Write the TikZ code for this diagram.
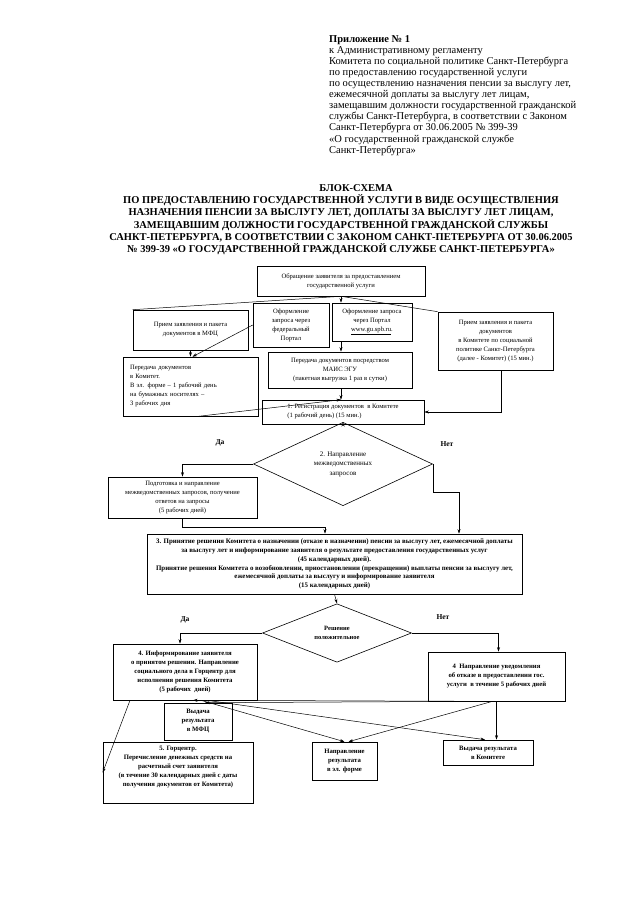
\documentclass[tikz,border=0pt]{standalone}
\usepackage{fontspec}
\setmainfont{Liberation Serif}
\usetikzlibrary{arrows.meta, positioning, shapes.geometric}

\begin{document}
\begin{tikzpicture}[x=1pt, y=-1pt,
    box/.style={draw, line width=0.6pt, align=center, inner sep=1pt,
      font=\fontsize{6.6}{9}\selectfont},
    boldbox/.style={box, font=\fontsize{6.7}{9}\selectfont\bfseries},
    choice/.style={draw, diamond, line width=0.6pt, inner sep=0pt, align=center},
    conn/.style={line width=0.5pt, -{Stealth[length=4.5pt, width=3pt]}},
    plain/.style={line width=0.5pt},
    yesno/.style={font=\fontsize{7.5}{8}\selectfont\bfseries}]

  \useasboundingbox (0,0) rectangle (640,905);

  % header and title
  \node[anchor=north west, align=left, inner sep=0pt,
        font=\fontsize{10.5}{11.1}\selectfont] (annex) at (329,35)
    {\textbf{Приложение № 1}\\
     к Административному регламенту\\
     Комитета по социальной политике Санкт-Петербурга\\
     по предоставлению государственной услуги\\
     по осуществлению назначения пенсии за выслугу лет,\\
     ежемесячной доплаты за выслугу лет лицам,\\
     замещавшим должности государственной гражданской\\
     службы Санкт-Петербурга, в соответствии с Законом\\
     Санкт-Петербурга от 30.06.2005 № 399-39\\
     «О государственной гражданской службе\\
     Санкт-Петербурга»};
  \node[anchor=north, align=center, inner sep=0pt,
        font=\fontsize{10.5}{12.3}\selectfont\bfseries] (title) at (341,184)
    {\hspace*{30pt}БЛОК-СХЕМА\\
     ПО ПРЕДОСТАВЛЕНИЮ ГОСУДАРСТВЕННОЙ УСЛУГИ В ВИДЕ ОСУЩЕСТВЛЕНИЯ\\
     НАЗНАЧЕНИЯ ПЕНСИИ ЗА ВЫСЛУГУ ЛЕТ, ДОПЛАТЫ ЗА ВЫСЛУГУ ЛЕТ ЛИЦАМ,\\
     ЗАМЕЩАВШИМ ДОЛЖНОСТИ ГОСУДАРСТВЕННОЙ ГРАЖДАНСКОЙ СЛУЖБЫ\\
     САНКТ-ПЕТЕРБУРГА, В СООТВЕТСТВИИ С ЗАКОНОМ САНКТ-ПЕТЕРБУРГА ОТ 30.06.2005\\
     № 399-39 «О ГОСУДАРСТВЕННОЙ ГРАЖДАНСКОЙ СЛУЖБЕ САНКТ-ПЕТЕРБУРГА»};

  % intake
  \node[box, minimum width=168pt, minimum height=30pt] (apply) at (341,281)
    {Обращение заявителя за предоставлением\\государственной услуги};
  \node[box, minimum width=115pt, minimum height=40pt] (mfcIn) at (190.5,330)
    {Прием заявления и пакета\\документов в МФЦ};
  \node[box, minimum width=76pt, minimum height=44pt] (fedPortal) at (291,325)
    {Оформление\\запроса через\\федеральный\\Портал};
  \node[box, minimum width=80pt, minimum height=38pt] (cityPortal) at (372,322)
    {Оформление запроса\\через Портал\\\underline{www.gu.spb.ru}.};
  \node[box, minimum width=115pt, minimum height=58pt] (komIn) at (495.5,341)
    {Прием заявления и пакета\\документов\\в Комитете по социальной\\политике Санкт-Петербурга\\(далее - Комитет) (15 мин.)};
  \node[box, align=left, text width=121pt, inner xsep=7pt, minimum height=59pt] (handover) at (190.5,386.5)
    {Передача документов\\в Комитет.\\В эл. форме – 1 рабочий день\\на бумажных носителях –\\3 рабочих дня};
  \node[box, minimum width=144pt, minimum height=36pt] (mais) at (340,370)
    {Передача документов посредством\\МАИС ЭГУ\\(пакетная выгрузка 1 раз в сутки)};
  \node[box, align=left, minimum width=162pt, minimum height=24pt] (register) at (343,412)
    {1. Регистрация документов~ в Комитете\\(1 рабочий день) (15 мин.)};

  % interagency requests
  \node[choice, minimum width=179pt, minimum height=60pt,
        font=\fontsize{7}{9.5}\selectfont] (requests) at (343,464)
    {2. Направление\\межведомственных\\запросов};
  \node[box, minimum width=149pt, minimum height=41pt] (prepare) at (182.5,497.5)
    {Подготовка и направление\\межведомственных запросов, получение\\ответов на запросы\\(5 рабочих дней)};
  \node[yesno] (yesA) at (220,443) {Да};
  \node[yesno] (noA) at (447,444) {Нет};

  % decision
  \node[boldbox, minimum width=375pt, minimum height=60pt,
        font=\fontsize{6.9}{8.7}\selectfont\bfseries] (decide) at (334.5,564)
    {3. Принятие решения Комитета о назначении (отказе в назначении) пенсии за выслугу лет, ежемесячной доплаты\\
     за выслугу лет и информирование заявителя о результате предоставления государственных услуг\\
     (45 календарных дней).\\
     Принятие решения Комитета о возобновлении, приостановлении (прекращении) выплаты пенсии за выслугу лет,\\
     ежемесячной доплаты за выслугу и информирование заявителя\\
     (15 календарных дней)};
  \node[choice, minimum width=149pt, minimum height=42pt,
        font=\fontsize{6.5}{9}\selectfont\bfseries] (positive) at (337,633)
    {Решение\\положительное};
  \node[yesno] (yesB) at (185,620) {Да};
  \node[yesno] (noB) at (443,617) {Нет};

  % results
  \node[boldbox, minimum width=144pt, minimum height=56pt] (inform) at (185,672)
    {4. Информирование заявителя\\о принятом решении. Направление\\социального дела в Горцентр для\\исполнения решения Комитета\\(5 рабочих~ дней)};
  \node[boldbox, minimum width=137pt, minimum height=49pt] (refuse) at (496.5,676.5)
    {4~ Направление уведомления\\об отказе в предоставлении гос.\\услуги~ в течение 5 рабочих дней};
  \node[boldbox, minimum width=68pt, minimum height=37pt] (resMfc) at (198,721.5)
    {Выдача\\результата\\в МФЦ};
  \node[boldbox, minimum width=150pt, minimum height=61pt] (gorcenter) at (178,772.5)
    {5. Горцентр.\\Перечисление денежных средств на\\расчетный счет заявителя\\(в течение 30 календарных дней с даты\\получения документов от Комитета)\\[3pt]};
  \node[boldbox, minimum width=65pt, minimum height=38pt] (resEl) at (344.5,761)
    {Направление\\результата\\в эл. форме};
  \node[boldbox, minimum width=90pt, minimum height=25pt] (resKom) at (488,752.5)
    {Выдача результата\\в Комитете};

  % connectors
  \draw[plain] (apply.south) -- (mfcIn.north west);
  \draw[plain] (apply.south) -- (komIn.north west);
  \draw[conn] (apply.south) -- (apply.south |- cityPortal.north);
  \draw[conn] (mfcIn.south) -- (handover.north);
  \draw[conn] (fedPortal.west) -- ([xshift=2pt]handover.north);
  \draw[conn] (apply.south |- cityPortal.south) -- (apply.south |- mais.north);
  \draw[conn] (apply.south |- mais.south) -- (apply.south |- register.north);
  \draw[conn] ([xshift=8pt]handover.south) -- ([xshift=-2pt]register.north);
  \draw[conn] ([xshift=6pt]komIn.south) |- (register.east);
  \draw[conn] (register.south) -- (requests.north);
  \draw[conn] (requests.west) -| (prepare.north);
  \coordinate (bendR) at (459,492);
  \draw[conn] (requests.east) |- (bendR) -- (bendR |- decide.north);
  \coordinate (bendL) at (325,527);
  \draw[conn] (prepare.south) |- (bendL) -- (bendL |- decide.north);
  \draw[conn] (decide.south) -- (positive.north);
  \draw[conn] (positive.west) -| ([xshift=-5pt]inform.north);
  \draw[conn] (positive.east) -| ([xshift=2pt]refuse.north);
  \draw[conn] ([xshift=-55pt]inform.south) -- (gorcenter.west);
  \draw[conn] ([xshift=16pt]inform.south) -- (resEl.north);
  \draw[conn] ([xshift=22pt]inform.south) -- ([xshift=-3pt]resKom.north);
  \draw[conn] ([xshift=-26pt]refuse.south) -- ([xshift=8pt]inform.south);
  \draw[conn] ([xshift=-22pt]refuse.south) -- ([xshift=7pt]resMfc.north);
  \draw[conn] ([xshift=-4pt]refuse.south) -- ([xshift=4pt]resEl.north);
  \draw[conn] (refuse.south) -- (refuse.south |- resKom.north);
\end{tikzpicture}
\end{document}
